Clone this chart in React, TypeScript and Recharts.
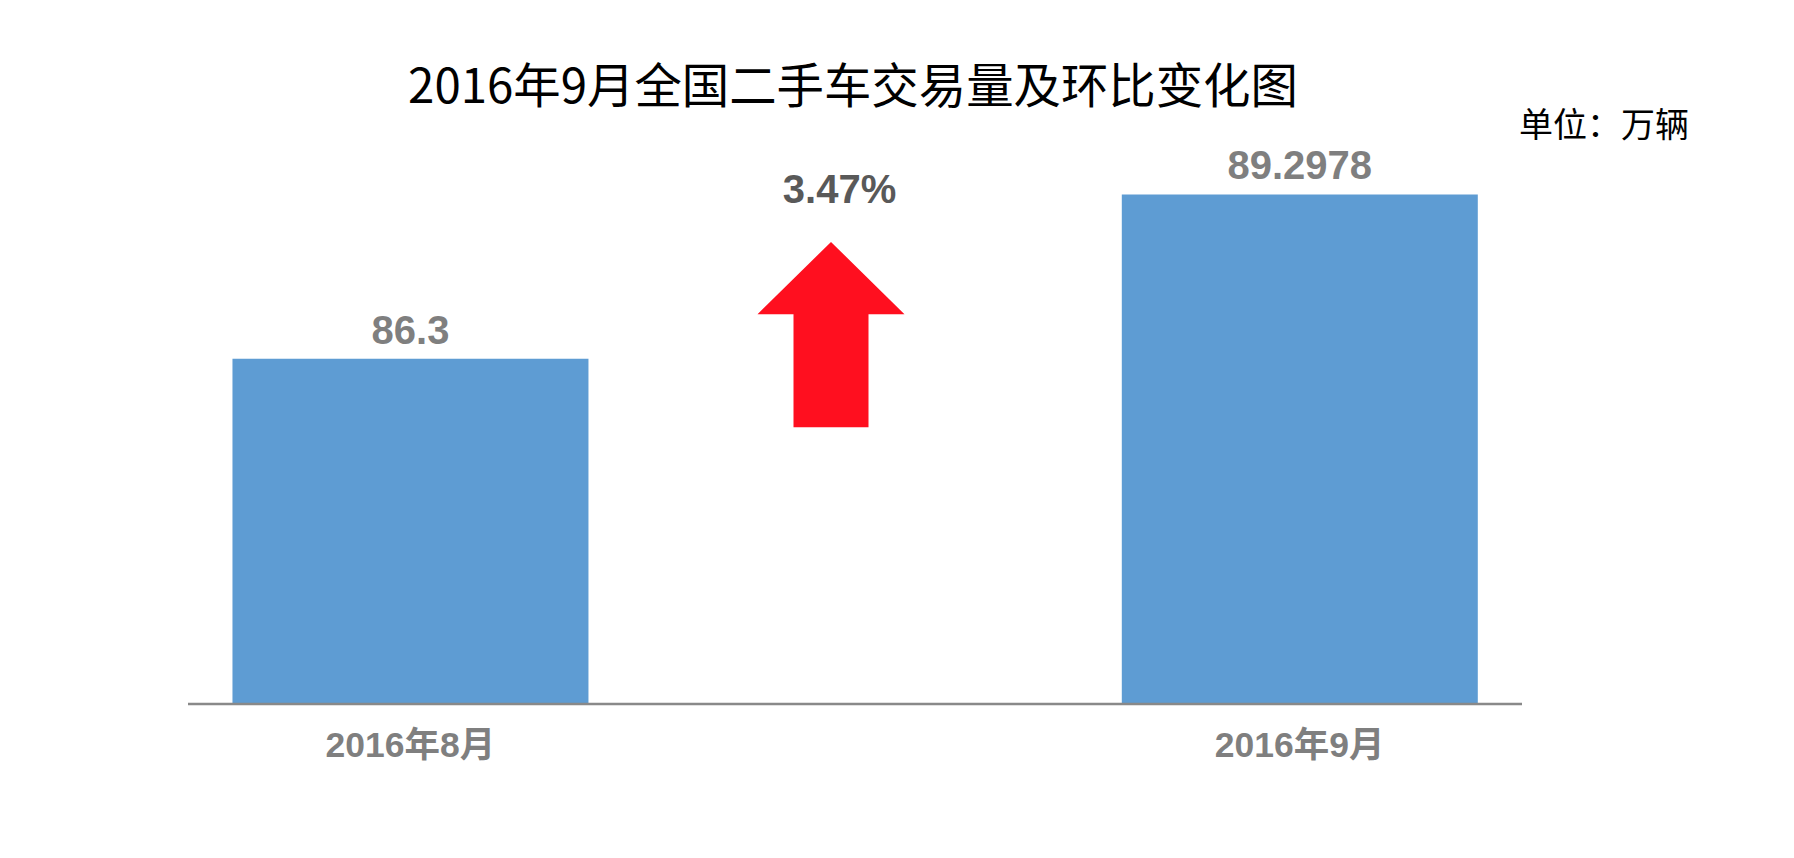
import { BarChart, Bar, XAxis, YAxis, LabelList, ReferenceArea } from "recharts";

// 2016年9月全国二手车交易量 (万辆)
const months = ["2016年8月", " ", "2016年9月"];
const volumes = [86.3, null, 89.2978];
const yDomain = [80, 90];
// decorative arrow in the middle slot, in value units
const arrowSlot = " ";
const arrowFrom = 85.05;
const arrowTo = 88.43;

const chartData = months.map((m, i) => ({ month: m, volume: volumes[i] }));

const momPct = (((volumes[2] as number) / (volumes[0] as number) - 1) * 100).toFixed(2) + "%";

const latin = "'Liberation Sans', Arial, 'Noto Sans CJK SC', sans-serif";
const cjk = "'Noto Sans CJK SC', 'Liberation Sans', sans-serif";

function UpArrow(props: any) {
    const { x, y, width, height } = props;
    const cx = x + width / 2 - 24;
    const headH = height * 0.39;
    const headW = 147;
    const shaftW = 75;
    const pts = [
        [cx, y],
        [cx + headW / 2, y + headH],
        [cx + shaftW / 2, y + headH],
        [cx + shaftW / 2, y + height],
        [cx - shaftW / 2, y + height],
        [cx - shaftW / 2, y + headH],
        [cx - headW / 2, y + headH],
    ]
        .map((p) => p.join(","))
        .join(" ");
    return (
        <g>
            <polygon points={pts} fill="#ff0f1f" />
            <text
                x={cx + 8.5}
                y={y - 39}
                textAnchor="middle"
                fill="#595959"
                fontSize={40}
                fontWeight="bold"
                fontFamily={latin}
            >
                {momPct}
            </text>
        </g>
    );
}

export default function App() {
    return (
        <div style={{ position: "absolute", left: 0, top: 0, width: 1794, height: 858, background: "#fff" }}>
            <BarChart
                width={1794}
                height={858}
                data={chartData}
                margin={{ top: 155.9, right: 272, bottom: 94, left: 188 }}
                barCategoryGap="10%"
            >
                <XAxis
                    dataKey="month"
                    height={60}
                    tickLine={false}
                    tickSize={0}
                    tickMargin={28}
                    axisLine={{ stroke: "#898989", strokeWidth: 2.5 }}
                    tick={{ fill: "#7f7f7f", fontSize: 35.5, fontWeight: "bold", fontFamily: latin }}
                    interval={0}
                />
                <YAxis hide domain={yDomain} type="number" />
                <Bar dataKey="volume" fill="#5e9cd3" isAnimationActive={false}>
                    <LabelList
                        dataKey="volume"
                        position="top"
                        offset={15}
                        fill="#7f7f7f"
                        fontSize={40}
                        fontWeight="bold"
                        fontFamily={latin}
                    />
                </Bar>
                <ReferenceArea
                    x1={arrowSlot}
                    x2={arrowSlot}
                    y1={arrowFrom}
                    y2={arrowTo}
                    shape={<UpArrow />}
                    ifOverflow="visible"
                />
            </BarChart>
            <svg
                width={1794}
                height={858}
                style={{ position: "absolute", left: 0, top: 0, pointerEvents: "none" }}
            >
                <text
                    x={853}
                    y={82}
                    textAnchor="middle"
                    dominantBaseline="central"
                    fontSize={47.4}
                    fontFamily={cjk}
                    fill="#000"
                >
                    2016年9月全国二手车交易量及环比变化图
                </text>
                <text
                    x={1519}
                    y={122.5}
                    dominantBaseline="central"
                    fontSize={34}
                    fontFamily={cjk}
                    fill="#000"
                >
                    单位：万辆
                </text>
            </svg>
        </div>
    );
}
